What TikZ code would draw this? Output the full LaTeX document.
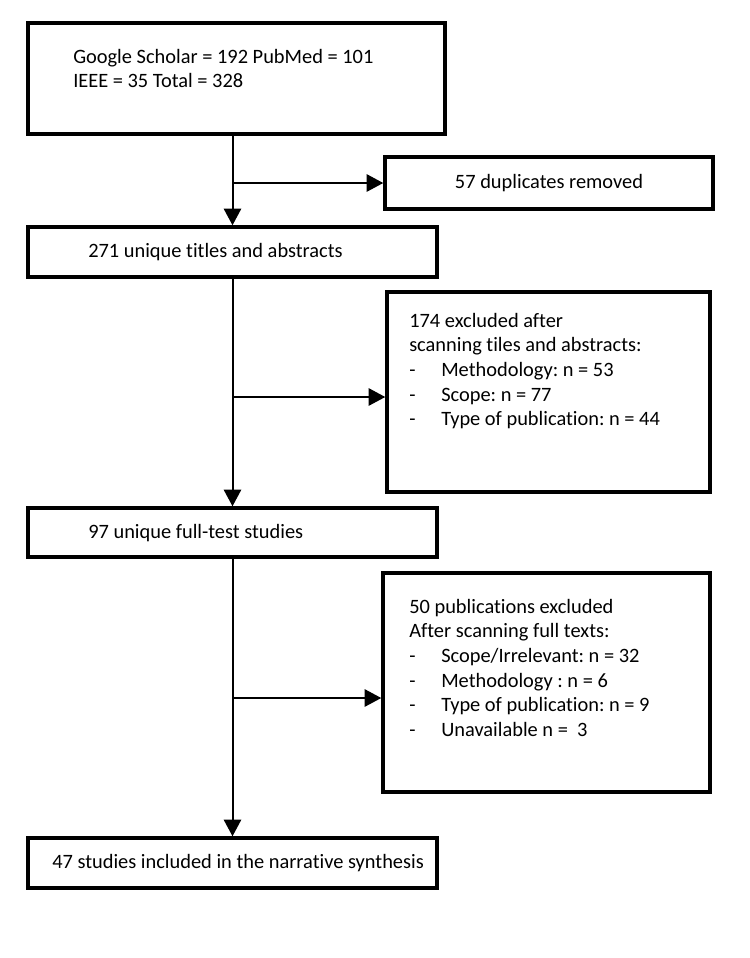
\documentclass[tikz,border=0pt]{standalone}
\usepackage{fontspec}
\setmainfont{Carlito}[Ligatures=NoCommon]
\usetikzlibrary{arrows.meta,calc,fit,positioning}
\frenchspacing

% one line of an exclusion list
\newcommand{\listdash}{\makebox[24pt][l]{-}}

\begin{document}
\begin{tikzpicture}[x=0.75pt,y=-0.75pt,
    box/.style={draw,line width=2.6pt,inner sep=0pt},
    boxtext/.style={inner sep=0pt,align=left,font=\fontsize{15.3}{18.4}\selectfont},
    trunk/.style={line width=1.5pt},
    flow/.style={line width=1.5pt,-{Triangle[length=12.5pt,width=13pt]}}]

\useasboundingbox (0,0) rectangle (750,958);

% Records found
\node[box,fit={(28,23) (445,134)}] (records) {};
\node[boxtext,anchor=north west] (recordstext) at (73,49)
  {Google Scholar = 192 PubMed = 101\\IEEE = 35 Total = 328};

% Duplicates
\node[box,fit={(385,157) (713,209)}] (dup) {};
\node[boxtext] (duptext) at (dup.center) {57 duplicates removed};

% Titles and abstracts
\node[box,fit={(28,227) (437,277)}] (titles) {};
\node[boxtext,anchor=west] (titlestext) at (88,252) {271 unique titles and abstracts};

% First exclusions
\node[box,fit={(387,292) (710,492)}] (exclA) {};
\node[boxtext,anchor=north west] (exclAtext) at (409,313)
  {174 excluded after\\
   scanning tiles and abstracts:\\
   \listdash Methodology: n = 53\\
   \listdash Scope: n = 77\\
   \listdash Type of publication: n = 44};

% Full texts
\node[box,fit={(28,508) (437,557)}] (full) {};
\node[boxtext,anchor=west] (fulltext) at (88,533) {97 unique full-test studies};

% Second exclusions
\node[box,fit={(383,573) (710,792)}] (exclB) {};
\node[boxtext,anchor=north west] (exclBtext) at (409,599)
  {50 publications excluded\\
   After scanning full texts:\\
   \listdash Scope/Irrelevant: n = 32\\
   \listdash Methodology : n = 6\\
   \listdash Type of publication: n = 9\\
   \listdash Unavailable n = \ 3};

% Included studies
\node[box,fit={(28,838) (437,888)}] (incl) {};
\node[boxtext,anchor=west] (incltext) at (52,863) {47 studies included in the narrative synthesis};

% Drawing the trunk and its branches
\coordinate (splitA) at (233,183);
\coordinate (splitB) at (233,397);
\coordinate (splitC) at (233,698);

\draw[flow] (titles.north |- records.south) -- (titles.north);
\draw[flow] (splitA) -- (dup.west |- splitA);

\draw[flow] (titles.south) -- (full.north);
\draw[flow] (splitB) -- (exclA.west |- splitB);

\draw[flow] (full.south) -- (incl.north);
\draw[flow] (splitC) -- (exclB.west |- splitC);

\end{tikzpicture}
\end{document}
